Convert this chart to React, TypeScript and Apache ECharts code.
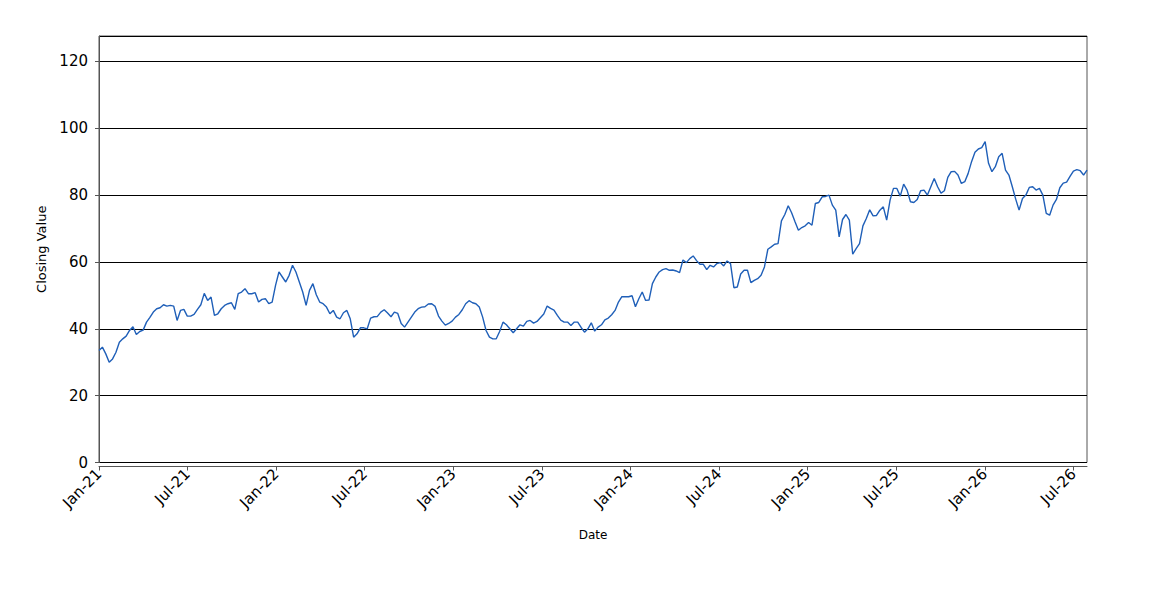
import React, { useEffect, useRef } from "react";
import * as echarts from "echarts";

// Weekly closing values, first point on 1 Jan 2021, one point every 7 days
const START_UTC = Date.UTC(2021, 0, 1);
const STEP_DAYS = 7;

const closing2021 = [
  33.5, 34.5, 32.5, 30, 31, 33, 36, 37, 37.8, 39.5, 40.6, 38.3, 39.2, 39.6, 42, 43.4, 45, 46,
  46.3, 47.2, 46.8, 47, 46.8, 42.5, 45.5, 45.8, 43.8, 43.8, 44.3, 45.8, 47.2, 50.6, 48.5, 49.5,
  44, 44.5, 46, 47, 47.5, 47.8, 45.8, 50.5, 51, 52, 50.5, 50.5, 50.8, 48, 48.8, 49, 47.5, 48, 53,
];
const closing2022 = [
  57, 55.5, 54, 56, 59, 57, 54, 51, 47, 51.5, 53.5, 50.2, 48, 47.5, 46.5, 44.5, 45.5, 43.5, 43,
  44.8, 45.5, 43, 37.5, 38.5, 40.3, 40.3, 40, 43.2, 43.6, 43.7, 45, 45.7, 44.7, 43.6, 45, 44.6,
  41.6, 40.5, 42, 43.5, 45, 46, 46.5, 46.6, 47.4, 47.5, 46.7, 43.8, 42.3, 41.1, 41.6, 42.3,
];
const closing2023 = [
  43.5, 44.3, 45.7, 47.5, 48.4, 47.8, 47.5, 46.5, 43.5, 39.5, 37.5, 37, 37, 39.2, 42, 41.2, 40,
  38.8, 40, 41.2, 40.8, 42.2, 42.5, 41.7, 42.2, 43.3, 44.4, 46.8, 46.1, 45.6, 44, 42.6, 42, 42,
  41, 42, 42, 40.4, 39, 40, 41.8, 39.3, 40.5, 41.2, 42.7, 43.2, 44.2, 45.5, 48, 49.6, 49.6, 49.6,
];
const closing2024 = [
  49.9, 46.6, 49, 51, 48.5, 48.6, 53.5, 55.5, 57, 57.7, 58, 57.5, 57.6, 57.3, 56.8, 60.6, 59.8,
  61, 61.8, 60.4, 59.3, 59.3, 57.7, 59, 58.5, 59.5, 59.8, 58.8, 60.3, 59.5, 52.3, 52.5, 56.4,
  57.5, 57.5, 53.8, 54.5, 55, 56, 58.5, 63.8, 64.5, 65.3, 65.5, 72.3, 74.2, 76.8, 74.7, 72, 69.5,
  70.3, 70.8,
];
const closing2025 = [
  71.8, 71, 77.5, 77.8, 79.5, 79.6, 80, 77, 75.5, 67.5, 72.7, 74.2, 72.5, 62.3, 64, 65.5, 70.8,
  73, 75.6, 73.8, 73.9, 75.5, 76.5, 72.5, 78.5, 82, 82, 79.7, 83.3, 81.5, 78, 77.8, 78.7, 81.3,
  81.5, 80, 82.5, 85, 82.5, 80.6, 81.3, 85.3, 87, 87.1, 86, 83.5, 84, 86.5, 90, 92.8, 93.8, 94.2,
];
const closing2026 = [
  96, 89.5, 87, 88.5, 91.5, 92.5, 87.5, 86, 82.5, 78.8, 75.5, 79, 80, 82.3, 82.5, 81.5, 82, 80,
  74.5, 74, 77, 78.7, 82.2, 83.6, 83.9, 85.6, 87.2, 87.6, 87.3, 86, 87.5,
];

const Y_TICKS_STEP = 20;
const Y_MAX = 127.6;
const MONTHS = ["Jan", "Feb", "Mar", "Apr", "May", "Jun", "Jul", "Aug", "Sep", "Oct", "Nov", "Dec"];
const HALF_YEAR_DAYS = 182.625;

const allValues = [
  ...closing2021,
  ...closing2022,
  ...closing2023,
  ...closing2024,
  ...closing2025,
  ...closing2026,
];
const seriesData = allValues.map((v, i) => [i * STEP_DAYS, v]);
const lastDay = (allValues.length - 1) * STEP_DAYS;

function dayLabel(v: number): string {
  const d = new Date(START_UTC + v * 86400000);
  let m = d.getUTCMonth();
  let y = d.getUTCFullYear();
  if (d.getUTCDate() > 15) {
    m += 1;
    if (m > 11) {
      m = 0;
      y += 1;
    }
  }
  return MONTHS[m] + "-" + String(y % 100).padStart(2, "0");
}

const FONT = "DejaVu Sans";

export default function App() {
  const ref = useRef<HTMLDivElement>(null);
  useEffect(() => {
    document.body.style.margin = "0";
    if (!ref.current) return;
    const chart = echarts.init(ref.current, undefined, { renderer: "svg" });
    chart.setOption({
      animation: false,
      backgroundColor: "#ffffff",
      grid: {
        left: 99,
        top: 36,
        width: 988,
        height: 426.5,
        show: true,
        borderColor: "#555555",
        borderWidth: 1,
        backgroundColor: "#ffffff",
      },
      xAxis: {
        type: "value",
        min: 0,
        max: lastDay,
        interval: HALF_YEAR_DAYS,
        offset: 4,
        name: "Date",
        nameLocation: "middle",
        nameGap: 62,
        nameTextStyle: { fontFamily: FONT, fontSize: 12, color: "#000" },
        axisLine: { show: true, onZero: false, lineStyle: { color: "#555555", width: 1 } },
        axisTick: { show: true, length: 4, lineStyle: { color: "#555555" } },
        splitLine: { show: false },
        axisLabel: {
          rotate: 45,
          margin: 5,
          fontFamily: FONT,
          fontSize: 15,
          color: "#000",
          showMaxLabel: false,
          formatter: (v: number) => dayLabel(v),
        },
      },
      yAxis: {
        type: "value",
        min: 0,
        max: Y_MAX,
        interval: Y_TICKS_STEP,
        offset: 4,
        name: "Closing Value",
        nameLocation: "middle",
        nameGap: 40,
        nameTextStyle: { fontFamily: FONT, fontSize: 13, color: "#000" },
        axisLine: { show: true, lineStyle: { color: "#555555", width: 1 } },
        axisTick: { show: true, length: 4, lineStyle: { color: "#555555" } },
        splitLine: { show: true, lineStyle: { color: "#000000", width: 1 } },
        axisLabel: {
          margin: 7,
          fontFamily: FONT,
          fontSize: 15,
          color: "#000",
          showMaxLabel: false,
        },
      },
      series: [
        {
          type: "line",
          data: seriesData,
          showSymbol: false,
          symbol: "none",
          lineStyle: { color: "#1f5fb8", width: 1.4 },
          itemStyle: { color: "#1f5fb8" },
        },
      ],
    });
    return () => chart.dispose();
  }, []);
  return (
    <div
      ref={ref}
      style={{ position: "absolute", left: 0, top: 0, width: 1150, height: 600 }}
    />
  );
}
